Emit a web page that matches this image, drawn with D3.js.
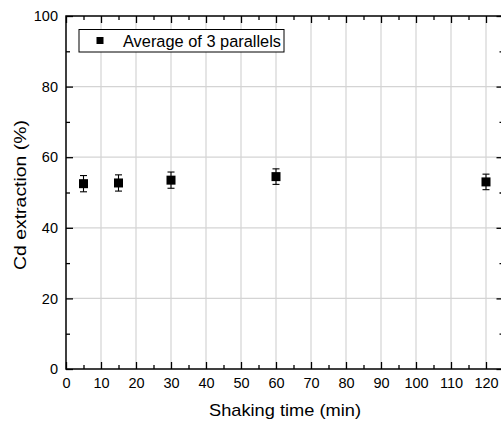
<!DOCTYPE html>
<html><head><meta charset="utf-8">
<script src="https://cdn.jsdelivr.net/npm/d3@7"></script>
<style>body{margin:0;background:#fff;} text{font-family:"Liberation Sans",Arial,sans-serif;}</style>
</head><body>
<svg id="c" width="501" height="421"></svg>
<script>
const times = [5, 15, 30, 60, 120];
const extraction = [52.5, 52.7, 53.5, 54.5, 53.0];
const errors = [2.3, 2.3, 2.3, 2.2, 2.2];
const xTicks = [0,10,20,30,40,50,60,70,80,90,100,110,120];
const yTicks = [0,20,40,60,80,100];
const seriesName = "Average of 3 parallels";

const svg = d3.select("#c");
const L = 66, R = 503.5, T = 16, B = 369;
const x = d3.scaleLinear().domain([0,125]).range([L,R]);
const y = d3.scaleLinear().domain([0,100]).range([B,T]);
const grid = "#d4d4d4";

// grid
svg.append("g").selectAll("line").data(xTicks.filter(d=>d>0)).join("line")
  .attr("x1",d=>x(d)).attr("x2",d=>x(d)).attr("y1",T).attr("y2",B)
  .attr("stroke",grid).attr("stroke-width",1.2);
svg.append("g").selectAll("line").data(yTicks.filter(d=>d>0&&d<100)).join("line")
  .attr("x1",L).attr("x2",R).attr("y1",d=>y(d)).attr("y2",d=>y(d))
  .attr("stroke",grid).attr("stroke-width",1.2);

// axes
const minorX = d3.range(5,125,10);
const minorY = d3.range(10,100,20);
function styleAxis(g){ g.select(".domain").remove(); g.selectAll("line").attr("stroke","#000").attr("stroke-width",1.3); g.selectAll("text").attr("font-size","14.5px").attr("fill","#000"); }
svg.append("g").attr("transform",`translate(0,${B})`)
  .call(d3.axisBottom(x).tickValues(xTicks).tickSizeInner(-7).tickSizeOuter(0).tickPadding(9).tickFormat(d3.format("d"))).call(styleAxis);
svg.append("g").attr("transform",`translate(0,${B})`)
  .call(d3.axisBottom(x).tickValues(minorX).tickSizeInner(-4).tickSizeOuter(0).tickFormat("")).call(styleAxis);
svg.append("g").attr("transform",`translate(0,${T})`)
  .call(d3.axisTop(x).tickValues(xTicks).tickSizeInner(-7).tickSizeOuter(0).tickFormat("")).call(styleAxis);
svg.append("g").attr("transform",`translate(0,${T})`)
  .call(d3.axisTop(x).tickValues(minorX).tickSizeInner(-4).tickSizeOuter(0).tickFormat("")).call(styleAxis);
svg.append("g").attr("transform",`translate(${L},0)`)
  .call(d3.axisLeft(y).tickValues(yTicks).tickSizeInner(-7).tickSizeOuter(0).tickPadding(8)).call(styleAxis);
svg.append("g").attr("transform",`translate(${L},0)`)
  .call(d3.axisLeft(y).tickValues(minorY).tickSizeInner(-4).tickSizeOuter(0).tickFormat("")).call(styleAxis);
svg.append("g").attr("transform",`translate(${R},0)`)
  .call(d3.axisRight(y).tickValues(yTicks).tickSizeInner(-7).tickSizeOuter(0).tickFormat("")).call(styleAxis);
svg.append("g").attr("transform",`translate(${R},0)`)
  .call(d3.axisRight(y).tickValues(minorY).tickSizeInner(-4).tickSizeOuter(0).tickFormat("")).call(styleAxis);
// frame
svg.append("rect").attr("x",L).attr("y",T).attr("width",R-L).attr("height",B-T)
  .attr("fill","none").attr("stroke","#000").attr("stroke-width",1.5);

// data
const data = times.map((t,i)=>({t, v:extraction[i], e:errors[i]}));
const eb = svg.append("g").attr("stroke","#000").attr("stroke-width",1.1);
eb.selectAll(".v").data(data).join("line")
  .attr("x1",d=>x(d.t)).attr("x2",d=>x(d.t)).attr("y1",d=>y(d.v+d.e)).attr("y2",d=>y(d.v-d.e));
eb.selectAll(".t").data(data).join("line")
  .attr("x1",d=>x(d.t)-3.5).attr("x2",d=>x(d.t)+3.5).attr("y1",d=>y(d.v+d.e)).attr("y2",d=>y(d.v+d.e));
eb.selectAll(".b").data(data).join("line")
  .attr("x1",d=>x(d.t)-3.5).attr("x2",d=>x(d.t)+3.5).attr("y1",d=>y(d.v-d.e)).attr("y2",d=>y(d.v-d.e));
svg.append("g").selectAll("rect").data(data).join("rect")
  .attr("x",d=>x(d.t)-4.5).attr("y",d=>y(d.v)-4.5).attr("width",9).attr("height",9).attr("fill","#000");

// legend
svg.append("rect").attr("x",79).attr("y",29.5).attr("width",205).attr("height",22.5)
  .attr("fill","#fff").attr("stroke","#000").attr("stroke-width",1);
svg.append("rect").attr("x",96.5).attr("y",37).attr("width",7).attr("height",7).attr("fill","#000");
svg.append("text").attr("x",123).attr("y",46.5).attr("font-size","16.3px")
  .attr("textLength",158).attr("lengthAdjust","spacingAndGlyphs").text(seriesName);

// titles
svg.append("text").attr("x",285).attr("y",416).attr("text-anchor","middle").attr("font-size","17px")
  .attr("textLength",152).attr("lengthAdjust","spacingAndGlyphs").text("Shaking time (min)");
svg.append("text").attr("transform",`translate(26,195) rotate(-90)`).attr("text-anchor","middle").attr("font-size","17px")
  .attr("textLength",150).attr("lengthAdjust","spacingAndGlyphs").text("Cd extraction (%)");
</script>
</body></html>
